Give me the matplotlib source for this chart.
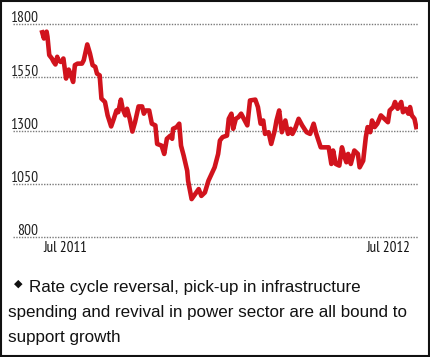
import matplotlib
matplotlib.use("Agg")
import matplotlib.pyplot as plt
from matplotlib.patches import Rectangle
from matplotlib.transforms import blended_transform_factory

# days relative to 1 Jul 2011
days = [-26, -24, -23, -21, -20, -18, -15, -13, -11, -9, -8, -5, -2, 1, 4, 6, 9, 11, 14, 19,
        21, 25, 28, 31, 34, 36, 39, 41, 45, 48, 52, 55, 58, 60, 63, 65, 68, 70, 73, 76,
        79, 83, 87, 89, 91, 95, 98, 102, 104, 109, 112, 115, 119, 121, 122, 126, 129, 131, 134, 138,
        139, 143, 151, 154, 158, 162, 169, 173, 175, 178, 183, 185, 188, 190, 193, 196, 199, 203, 206, 209,
        215, 218, 221, 224, 226, 230, 233, 237, 239, 242, 245, 249, 252, 255, 257, 260, 264, 268, 273, 277,
        281, 284, 289, 294, 298, 301, 303, 306, 310, 313, 316, 318, 320, 323, 327, 331, 333, 337, 340, 342,
        345, 347, 350, 353, 357, 361, 365, 367, 371, 373, 376, 380, 382, 385, 388, 390, 392, 395, 397]
values = [1761, 1732, 1756, 1764, 1740, 1654, 1638, 1622, 1610, 1646, 1630, 1622, 1638, 1544, 1586, 1567, 1528, 1607, 1614, 1614,
          1630, 1704, 1662, 1607, 1599, 1567, 1559, 1450, 1434, 1371, 1319, 1355, 1394, 1386, 1445, 1402, 1371, 1402, 1355, 1295,
          1339, 1413, 1413, 1379, 1394, 1394, 1332, 1324, 1237, 1229, 1190, 1261, 1276, 1261, 1308, 1316, 1332, 1229, 1182, 1111,
          1064, 978, 1025, 993, 1009, 1064, 1127, 1190, 1253, 1269, 1276, 1355, 1379, 1308, 1355, 1363, 1379, 1347, 1324, 1441,
          1445, 1410, 1332, 1347, 1284, 1292, 1237, 1300, 1347, 1394, 1292, 1347, 1284, 1308, 1284, 1308, 1355, 1324, 1292, 1284,
          1332, 1284, 1221, 1221, 1221, 1143, 1206, 1143, 1135, 1221, 1174, 1151, 1190, 1143, 1206, 1190, 1127, 1158, 1269, 1316,
          1292, 1347, 1316, 1332, 1371, 1355, 1339, 1394, 1410, 1434, 1402, 1434, 1386, 1402, 1379, 1410, 1371, 1355, 1316]
yticks = [800, 1050, 1300, 1550, 1800]
xtick_pos = [0, 366]
xtick_labels = ["Jul 2011", "Jul 2012"]
note_lines = ["Rate cycle reversal, pick-up in infrastructure",
              "spending and revival in power sector are all bound to",
              "support growth"]

narrow = ["Liberation Sans Narrow", "Arial Narrow", "Arimo Narrow", "PT Sans Narrow",
          "Archivo Narrow", "Roboto Condensed", "Liberation Sans", "DejaVu Sans"]
regular = ["Liberation Sans", "DejaVu Sans"]

W, H = 430, 357
fig = plt.figure(figsize=(W / 100, H / 100), dpi=100)
fig.patch.set_facecolor("white")
ax = fig.add_axes([13 / W, 1 - 237 / H, 405 / W, 213 / H])
ax.set_xlim(-59, 399)
ax.set_ylim(800, 1800)
for s in ax.spines.values():
    s.set_visible(False)
ax.set_xticks([])
ax.set_yticks([])
ax.patch.set_alpha(0)

tr = blended_transform_factory(fig.transFigure, ax.transData)
for yv in yticks:
    ax.axhline(yv, color="#7a7a7a", lw=1.0, ls=(0, (1, 1)), zorder=1, clip_on=False)
    ax.text(38.5 / W, yv - 6, str(yv), transform=tr, ha="right", va="bottom",
            fontsize=11.2, family=narrow, color="#222222")
ax.plot(days, values, color="#d1131d", lw=3.3, solid_joinstyle="round", zorder=3)

trx = blended_transform_factory(ax.transData, fig.transFigure)
for xp, lab in zip(xtick_pos, xtick_labels):
    ax.text(xp, 1 - 248 / H, lab, transform=trx, ha="center", va="center",
            fontsize=10.8, family=narrow, color="#111111")

fig.text(14 / W, 1 - 283.5 / H, "\u25c6", ha="left", va="center", fontsize=8,
         family=["DejaVu Sans"], color="#111111")
ys = [292, 317, 342]
for i, (line, yb) in enumerate(zip(note_lines, ys)):
    x0 = 29 if i == 0 else 8
    fig.text(x0 / W, 1 - yb / H, line, ha="left", va="baseline", fontsize=12.25,
             family=regular, color="#111111")

fig.add_artist(Rectangle((1 / W, 1 / H), (W - 2) / W, (H - 2) / H, transform=fig.transFigure,
                         fill=False, ec="#111111", lw=1.5))
fig.savefig("out.png", dpi=100)
